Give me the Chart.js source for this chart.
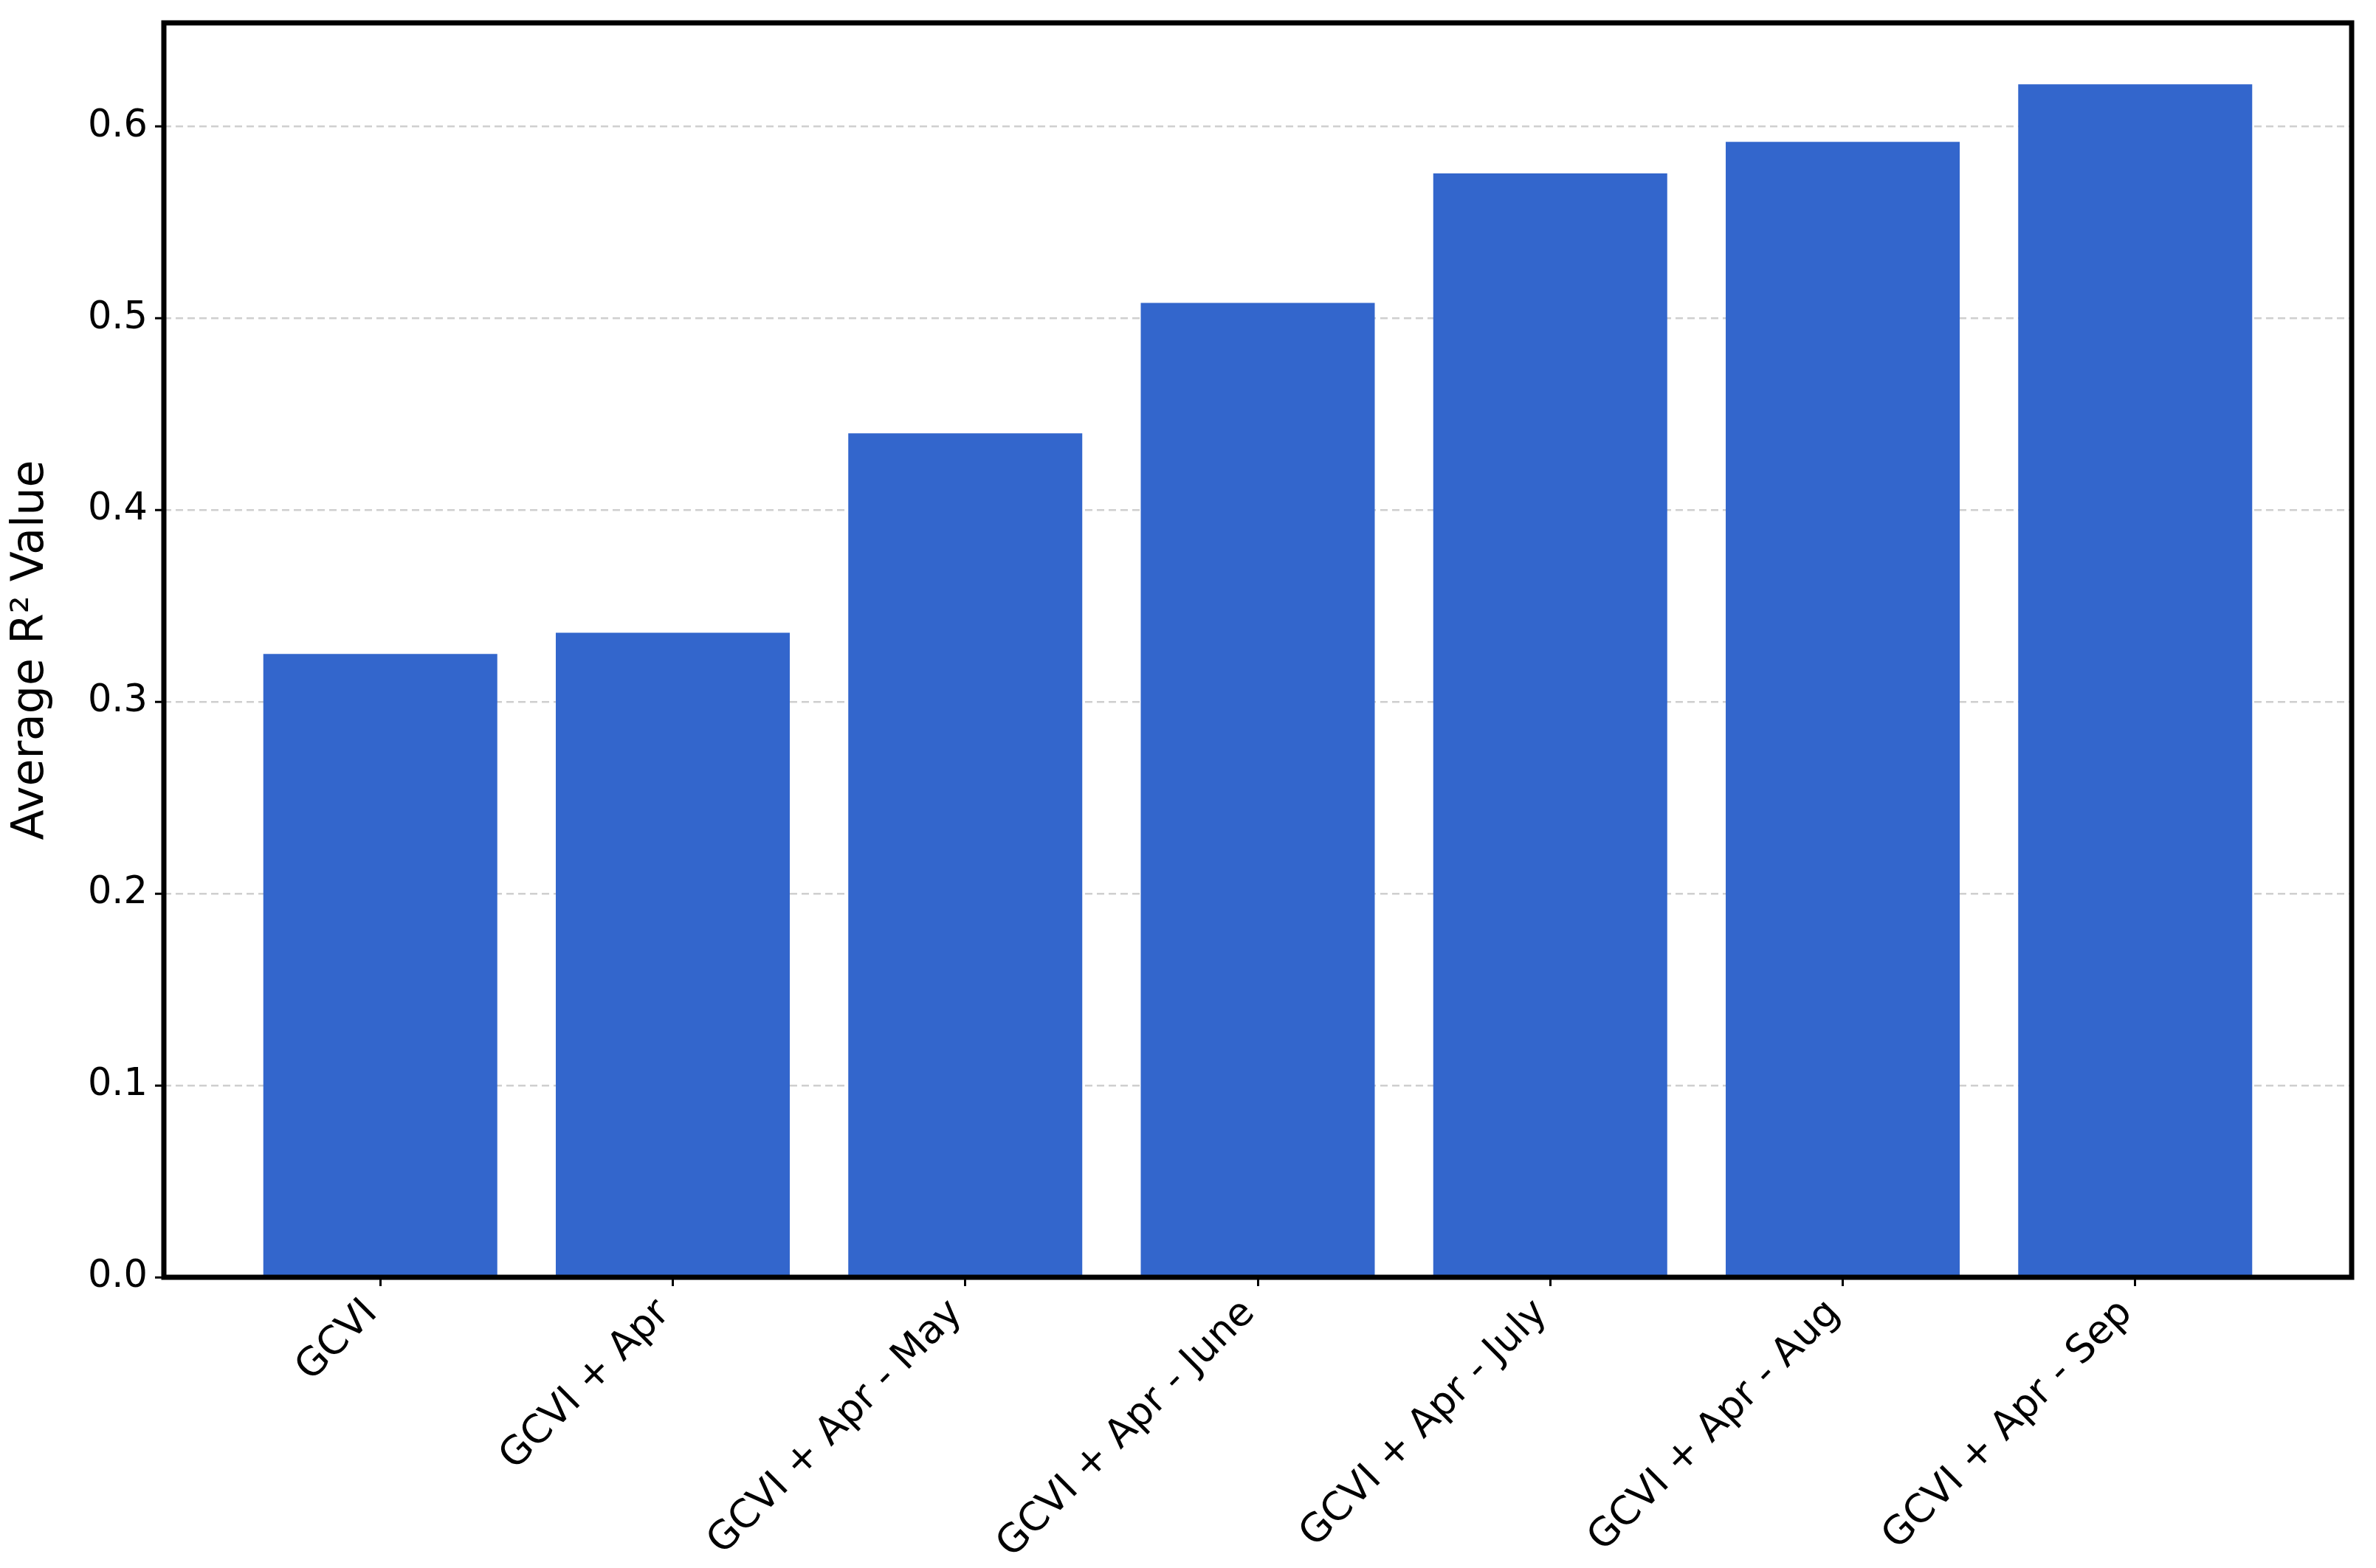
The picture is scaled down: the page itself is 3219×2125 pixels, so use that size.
<!DOCTYPE html>
<html>
<head>
<meta charset="utf-8">
<script src="https://cdn.jsdelivr.net/npm/chart.js@4.4.1/dist/chart.umd.min.js"></script>
<style>
  html, body { margin: 0; padding: 0; background: #ffffff; }
  #wrap { width: 3219px; height: 2125px; }
</style>
</head>
<body>
<div id="wrap"><canvas id="c" width="3219" height="2125"></canvas></div>
<script>
const categories = ["GCVI", "GCVI + Apr", "GCVI + Apr - May", "GCVI + Apr - June", "GCVI + Apr - July", "GCVI + Apr - Aug", "GCVI + Apr - Sep"];
const r2Values = [0.325, 0.336, 0.440, 0.508, 0.5755, 0.592, 0.622];
const yTickValues = [0.0, 0.1, 0.2, 0.3, 0.4, 0.5, 0.6];
const yAxisTitle = "Average R\u00B2 Value";

const FONT = "'DejaVu Sans', 'Liberation Sans', sans-serif";

const boxPlugin = {
  id: 'box',
  afterDraw(chart) {
    const a = chart.chartArea;
    const ctx = chart.ctx;
    ctx.save();
    ctx.strokeStyle = '#000000';
    ctx.lineWidth = 7;
    ctx.lineJoin = 'miter';
    ctx.setLineDash([]);
    ctx.strokeRect(a.left, a.top, a.right - a.left, a.bottom - a.top);
    ctx.restore();
  }
};

new Chart(document.getElementById('c'), {
  type: 'bar',
  data: {
    datasets: [{
      data: categories.map((c, i) => ({ x: i, y: r2Values[i] })),
      backgroundColor: '#3366CC',
      borderWidth: 0,
      categoryPercentage: 1.0,
      barPercentage: 0.8
    }]
  },
  options: {
    responsive: false,
    animation: false,
    devicePixelRatio: 1,
    layout: { padding: { top: 31, right: 33, left: 0, bottom: 0 } },
    plugins: {
      legend: { display: false },
      tooltip: { enabled: false }
    },
    scales: {
      x: {
        type: 'linear',
        min: -0.74,
        max: 6.74,
        offset: false,
        z: 1,
        border: { display: false },
        grid: {
          display: true,
          offset: false,
          drawOnChartArea: false,
          drawTicks: true,
          tickLength: 12,
          tickWidth: 3,
          tickColor: '#000000'
        },
        afterBuildTicks(scale) {
          scale.ticks = categories.map((c, i) => ({ value: i }));
        },
        afterFit(scale) {
          scale.height = 2125 - 1731;
          scale.paddingLeft = 0; scale.paddingRight = 0;
          scale.paddingTop = 0; scale.paddingBottom = 0;
        },
        ticks: {
          autoSkip: false,
          minRotation: 45,
          maxRotation: 45,
          padding: 6,
          labelOffset: -12,
          color: '#000000',
          font: { family: FONT, size: 53 },
          callback: (v) => categories[Math.round(v)]
        }
      },
      y: {
        type: 'linear',
        min: 0,
        max: 0.654,
        z: 1,
        border: { display: false, dash: [10, 6] },
        afterBuildTicks(scale) {
          scale.ticks = yTickValues.map(v => ({ value: v }));
        },
        afterFit(scale) {
          scale.width = 222;
          scale.paddingLeft = 0; scale.paddingRight = 0;
          scale.paddingTop = 0; scale.paddingBottom = 0;
        },
        grid: {
          display: true,
          drawOnChartArea: true,
          drawTicks: true,
          color: 'rgba(175,175,175,0.6)',
          lineWidth: 2.5,
          tickBorderDash: [],
          tickLength: 12,
          tickWidth: 3,
          tickColor: '#000000'
        },
        ticks: {
          padding: 10,
          color: '#000000',
          font: { family: FONT, size: 51 },
          callback: (v) => Number(v).toFixed(1)
        },
        title: {
          display: true,
          text: yAxisTitle,
          color: '#000000',
          font: { family: FONT, size: 60 },
          padding: { top: 6, bottom: 0 }
        }
      }
    }
  },
  plugins: [boxPlugin]
});
</script>
</body>
</html>
